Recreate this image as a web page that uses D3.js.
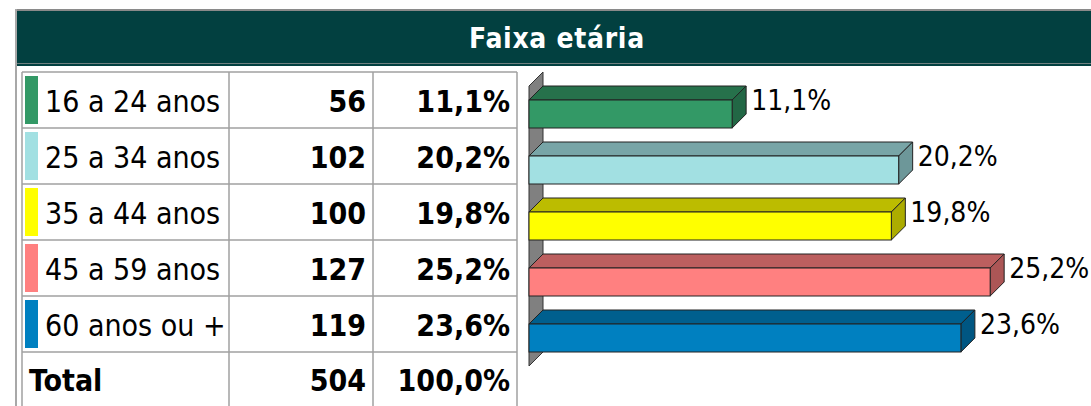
<!DOCTYPE html>
<html>
<head>
<meta charset="utf-8">
<script src="https://cdn.jsdelivr.net/npm/d3@7"></script>
<style>
  body { margin: 0; background: #fff; }
  svg text { font-family: "DejaVu Sans Condensed", "DejaVu Sans", sans-serif; font-stretch: condensed; }
</style>
</head>
<body>
<script>
// data
const categories = ["16 a 24 anos", "25 a 34 anos", "35 a 44 anos", "45 a 59 anos", "60 anos ou +"];
const counts = [56, 102, 100, 127, 119];
const percents = [11.1, 20.2, 19.8, 25.2, 23.6];
const colors = ["#339966", "#a2e0e2", "#ffff00", "#ff8080", "#0080c0"];
const totalCount = 504;
const totalPercent = 100.0;
const title = "Faixa etária";

const width = 1091, height = 406;

const svg = d3.select("body")
  .append("svg")
  .attr("width", width)
  .attr("height", height);

const locale = d3.formatLocale({decimal: ",", thousands: ".", grouping: [3], currency: ["R$", ""]});
const fmtPct = v => locale.format(".1f")(v) + "%";

// header band
svg.append("rect")
  .attr("x", 15).attr("y", 9)
  .attr("width", width - 15).attr("height", 57)
  .attr("fill", "#024040");
svg.append("line")
  .attr("x1", 15).attr("x2", width).attr("y1", 10).attr("y2", 10)
  .attr("stroke", "#8a8a8a").attr("stroke-width", 2);
svg.append("line")
  .attr("x1", 15).attr("x2", width).attr("y1", 63.5).attr("y2", 63.5)
  .attr("stroke", "#6f8080").attr("stroke-width", 1);
svg.append("text")
  .attr("x", 557).attr("y", 48)
  .attr("text-anchor", "middle")
  .attr("fill", "#ffffff")
  .attr("font-weight", "bold")
  .attr("font-size", 28)
  .attr("letter-spacing", 0.7)
  .text(title);

// outer frame left line
svg.append("line")
  .attr("x1", 16).attr("x2", 16).attr("y1", 9).attr("y2", height)
  .attr("stroke", "#a8a8a8").attr("stroke-width", 2);

// table
const rows = d3.scaleBand()
  .domain(categories)
  .range([72, 352]);
const rowH = rows.bandwidth();
const colX = [22, 229, 373, 517];

const grid = svg.append("g")
  .attr("stroke", "#a0a0a0")
  .attr("stroke-width", 1.5);
colX.forEach(x => grid.append("line")
  .attr("x1", x).attr("x2", x).attr("y1", 72).attr("y2", height));
categories.concat(["__end"]).forEach((c, i) => {
  const y = i < categories.length ? rows(c) : rows.range()[1];
  grid.append("line")
    .attr("x1", colX[0]).attr("x2", colX[3]).attr("y1", y).attr("y2", y);
});

const row = svg.selectAll("g.row")
  .data(categories)
  .join("g")
  .attr("class", "row")
  .attr("transform", c => `translate(0, ${rows(c)})`);

row.append("rect")
  .attr("x", 25).attr("y", 4)
  .attr("width", 13).attr("height", rowH - 8)
  .attr("fill", (c, i) => colors[i]);

row.append("text")
  .attr("x", 45).attr("y", 40)
  .attr("font-size", 30)
  .attr("fill", "#000")
  .text(c => c);

row.append("text")
  .attr("x", colX[2] - 7).attr("y", 40)
  .attr("text-anchor", "end")
  .attr("font-size", 30)
  .attr("font-weight", "bold")
  .text((c, i) => counts[i]);

row.append("text")
  .attr("x", colX[3] - 7).attr("y", 40)
  .attr("text-anchor", "end")
  .attr("font-size", 30)
  .attr("font-weight", "bold")
  .text((c, i) => fmtPct(percents[i]));

// total row
const totY = rows.range()[1];
svg.append("text")
  .attr("x", 29).attr("y", totY + 39)
  .attr("font-size", 30).attr("font-weight", "bold")
  .text("Total");
svg.append("text")
  .attr("x", colX[2] - 7).attr("y", totY + 39)
  .attr("text-anchor", "end")
  .attr("font-size", 30).attr("font-weight", "bold")
  .text(totalCount);
svg.append("text")
  .attr("x", colX[3] - 7).attr("y", totY + 39)
  .attr("text-anchor", "end")
  .attr("font-size", 30).attr("font-weight", "bold")
  .text(fmtPct(totalPercent));

// 3D bar chart
const x = d3.scaleLinear()
  .domain([0, 30])
  .range([529, 1078]);
const depth = rowH / 4;
const barH = rowH / 2;

// back wall
const wy0 = rows.range()[0], wy1 = rows.range()[1];
svg.append("polygon")
  .attr("points", [[x(0), wy0 + depth], [x(0) + depth, wy0], [x(0) + depth, wy1], [x(0), wy1 + depth]].join(" "))
  .attr("fill", "#808080")
  .attr("stroke", "#333")
  .attr("stroke-width", 1);

const bars = svg.selectAll("g.bar")
  .data(categories)
  .join("g")
  .attr("class", "bar");

const shade = (c, k) => d3.rgb(c).darker(k).formatHex();

// top face
bars.append("polygon")
  .attr("points", (c, i) => {
    const yf = rows(c) + barH, xe = x(percents[i]);
    return [[x(0), yf], [x(0) + depth, yf - depth], [xe + depth, yf - depth], [xe, yf]].join(" ");
  })
  .attr("fill", (c, i) => shade(colors[i], 0.85))
  .attr("stroke", "#222").attr("stroke-width", 1);

// side face
bars.append("polygon")
  .attr("points", (c, i) => {
    const yf = rows(c) + barH, xe = x(percents[i]);
    return [[xe, yf], [xe + depth, yf - depth], [xe + depth, yf + barH - depth], [xe, yf + barH]].join(" ");
  })
  .attr("fill", (c, i) => shade(colors[i], 1.1))
  .attr("stroke", "#222").attr("stroke-width", 1);

// front face
bars.append("rect")
  .attr("x", x(0))
  .attr("y", c => rows(c) + barH)
  .attr("width", (c, i) => x(percents[i]) - x(0))
  .attr("height", barH)
  .attr("fill", (c, i) => colors[i])
  .attr("stroke", "#222").attr("stroke-width", 1);

// value labels
bars.append("text")
  .attr("x", (c, i) => x(percents[i]) + depth + 5)
  .attr("y", c => rows(c) + barH + 10)
  .attr("font-size", 28)
  .text((c, i) => fmtPct(percents[i]));
</script>
</body>
</html>
